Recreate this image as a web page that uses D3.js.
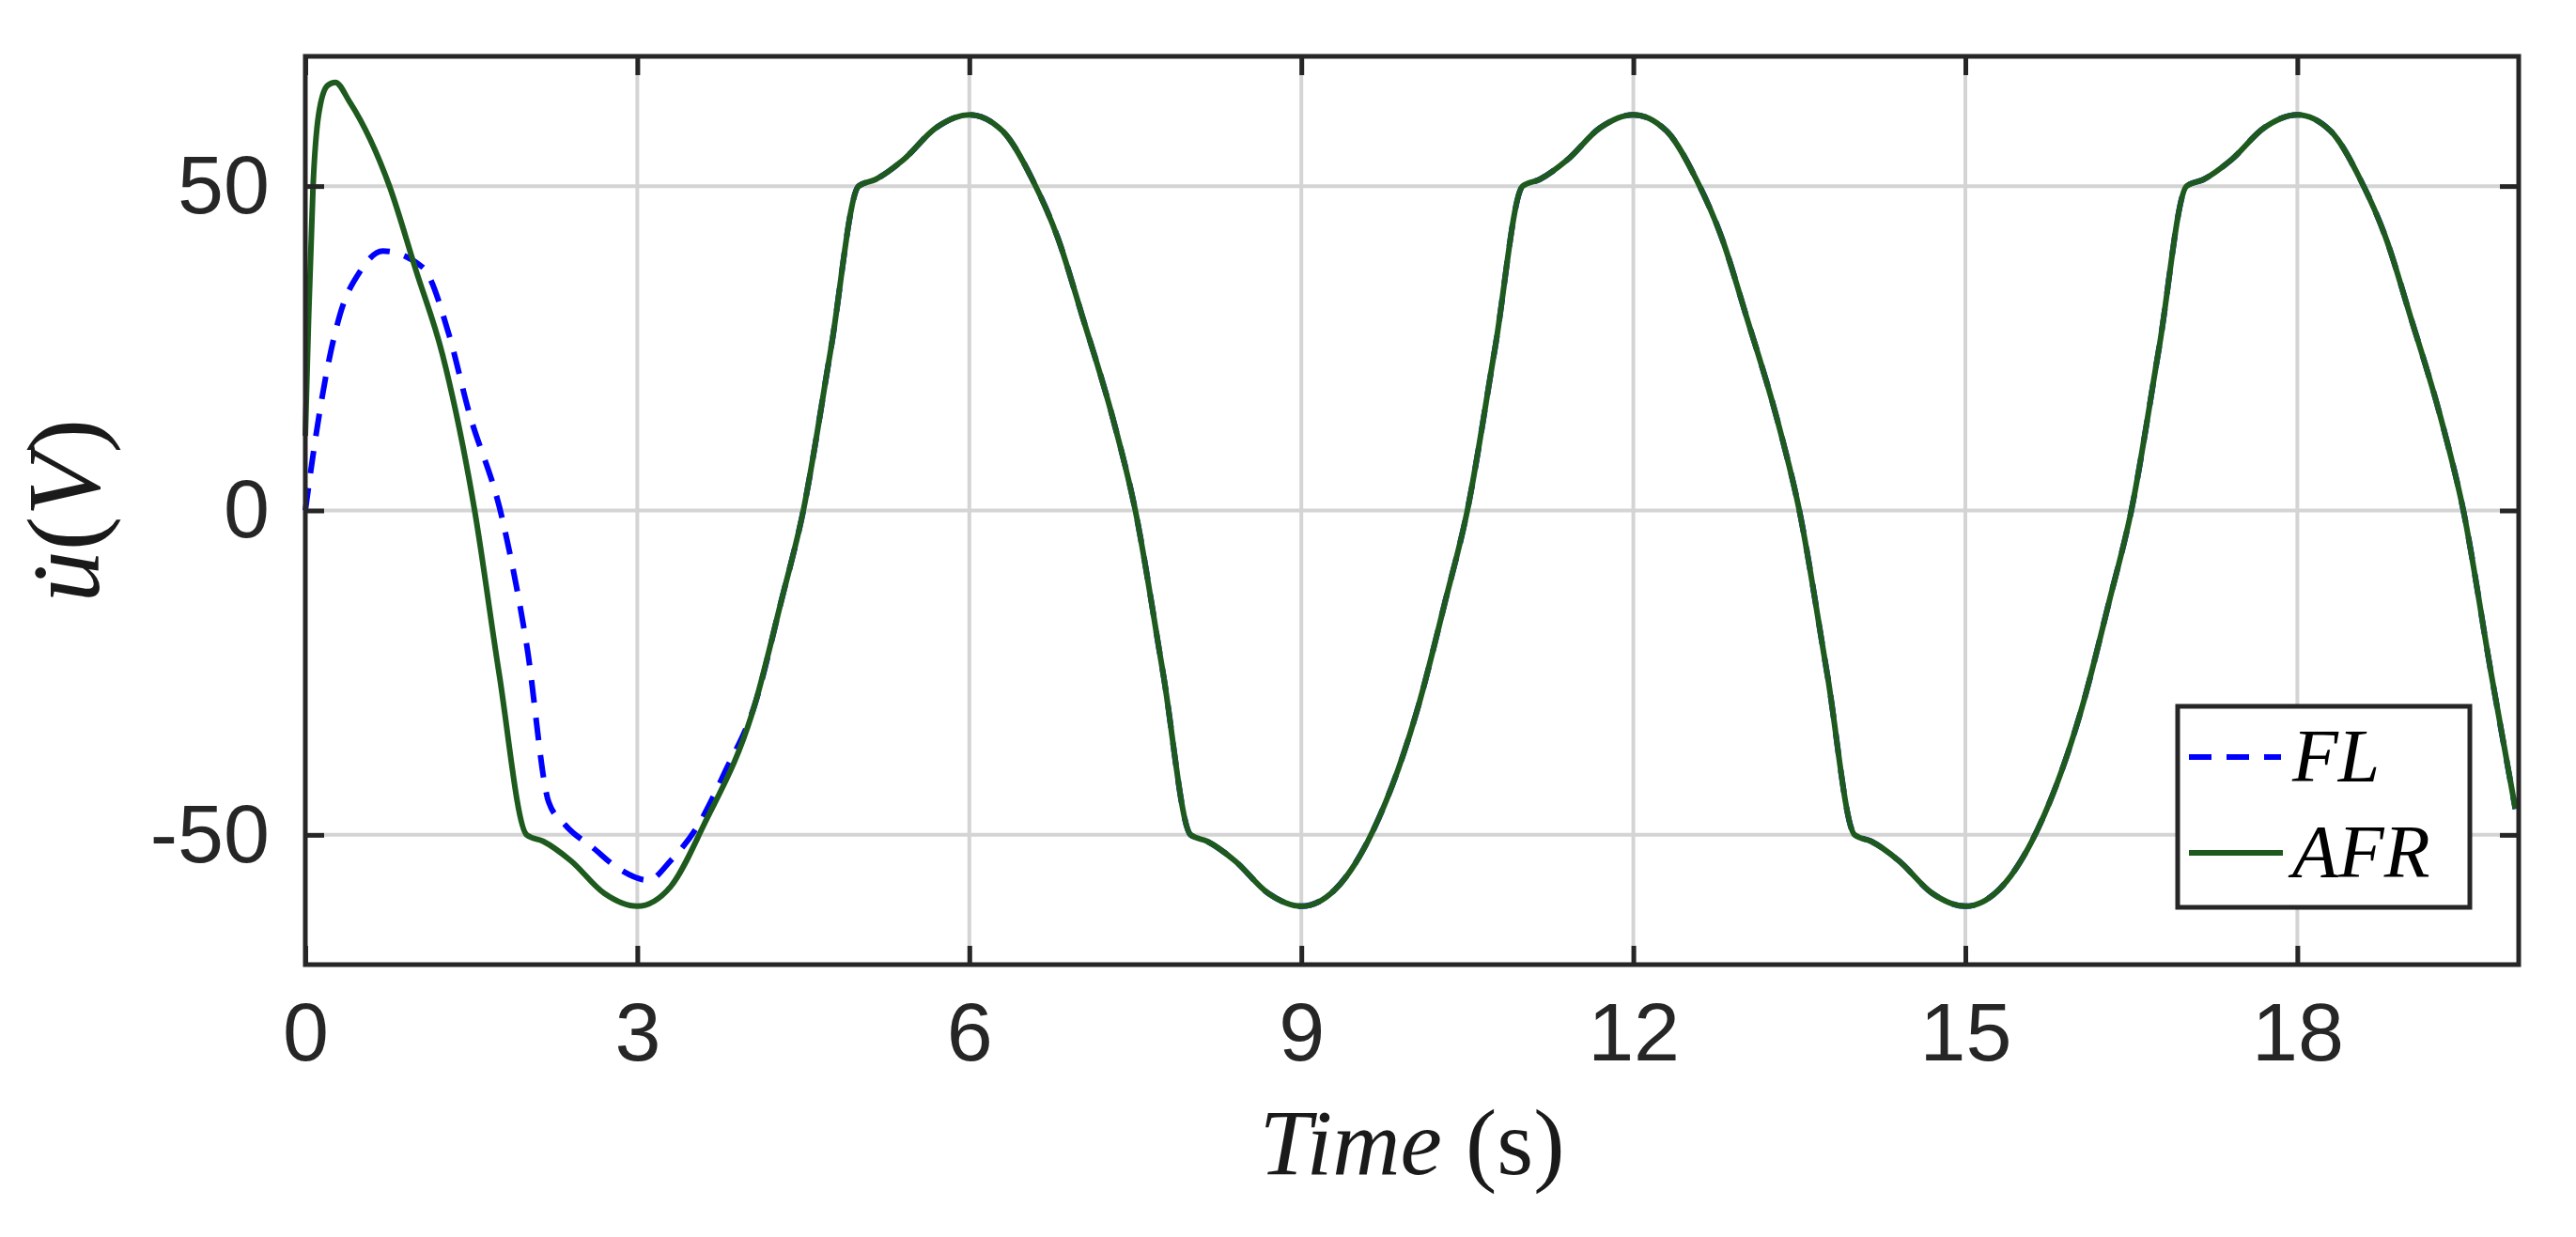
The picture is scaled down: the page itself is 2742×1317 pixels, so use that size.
<!DOCTYPE html>
<html><head><meta charset="utf-8">
<script src="https://cdn.jsdelivr.net/npm/d3@7/dist/d3.min.js"></script>
<style>body{margin:0;background:#fff}</style></head>
<body><svg id="c" width="2742" height="1317"></svg>
<script>
const xTicks = [0,3,6,9,12,15,18];
const yTicks = [-50,0,50];
const yTickLabels = ['-50','0','50'];
const afrT = [0,0.03,0.07,0.12,0.2,0.27,0.4,0.76,1.0,1.24,1.53,1.75,2.0,2.15,2.4,2.7,3.0,3.3,3.6,4.06,4.3,4.5,
 4.75,5,5.15,5.4,5.7,6,6.3,6.57,6.8,7.02,7.3,7.5,7.75,8,8.15,8.4,8.7,9,9.3,9.6,10.06,10.3,10.5,
 10.75,11,11.15,11.4,11.7,12,12.3,12.57,12.8,13.02,13.3,13.5,13.75,14,14.15,14.4,14.7,15,15.3,15.6,16.06,16.3,16.5,
 16.75,17,17.15,17.4,17.7,18,18.3,18.57,18.8,19.02,19.3,19.5,19.75,19.97];
const afrV = [11.5,30,50,61,65.5,66,63,50,37,24,0,-25,-50,-51,-54,-59,-61,-58,-48.5,-30,-14,0,
 25,50,51,54,59,61,58.5,51,42,30,14,0,-25,-50,-51,-54,-59,-61,-58.5,-51,-30,-14,0,
 25,50,51,54,59,61,58.5,51,42,30,14,0,-25,-50,-51,-54,-59,-61,-58.5,-51,-30,-14,0,
 25,50,51,54,59,61,58.5,51,42,30,14,0,-25,-46];
const flT = [0,0.1,0.2,0.31,0.5,0.7,1.06,1.3,1.47,1.78,2.0,2.2,2.35,2.6,2.84,3.1,3.3,3.55,3.8,4.06];
const flV = [0,12,22,30,37,40,37.5,27,15.7,-1.3,-20.7,-45,-48.5,-52,-55.3,-57,-54,-48.5,-40,-30];

const svg = d3.select('#c');
const L=325,R=2681,T=60,B=1027;
const x = d3.scaleLinear().domain([0,20]).range([L,R]);
const y = d3.scaleLinear().domain([-70,70]).range([B,T]);
const axisCol='#262626';
svg.append('g').selectAll('line').data(xTicks).join('line')
 .attr('x1',d=>x(d)).attr('x2',d=>x(d)).attr('y1',T).attr('y2',B).attr('stroke','#d4d4d4').attr('stroke-width',4);
svg.append('g').selectAll('line').data(yTicks).join('line')
 .attr('y1',d=>y(d)).attr('y2',d=>y(d)).attr('x1',L).attr('x2',R).attr('stroke','#d4d4d4').attr('stroke-width',4);
const line = d3.line().x(d=>x(d[0])).y(d=>y(d[1])).curve(d3.curveMonotoneX);
const afr = afrT.map((t,i)=>[t,afrV[i]]);
const fl = flT.map((t,i)=>[t,flV[i]]).concat(afr.filter(d=>d[0]>4.06));
svg.append('path').attr('d',line(fl)).attr('fill','none').attr('stroke','#0000ff').attr('stroke-width',6).attr('stroke-dasharray','24,16');
svg.append('path').attr('d',line(afr)).attr('fill','none').attr('stroke','#1e5a1e').attr('stroke-width',6);
const fnt='Liberation Sans, Arial, sans-serif';
const gb=svg.append('g').attr('transform',`translate(0,${B})`).call(d3.axisBottom(x).tickValues(xTicks).tickSize(-20).tickPadding(40).tickFormat(d3.format('d')));
const gt=svg.append('g').attr('transform',`translate(0,${T})`).call(d3.axisTop(x).tickValues(xTicks).tickSize(-20).tickFormat(''));
const gl=svg.append('g').attr('transform',`translate(${L},0)`).call(d3.axisLeft(y).tickValues(yTicks).tickSize(-20).tickPadding(38).tickFormat((d,i)=>yTickLabels[i]));
const gr=svg.append('g').attr('transform',`translate(${R},0)`).call(d3.axisRight(y).tickValues(yTicks).tickSize(-20).tickFormat(''));
[gb,gt,gl,gr].forEach(g=>{g.select('.domain').remove();g.selectAll('line').attr('stroke',axisCol).attr('stroke-width',5);
 g.selectAll('text').attr('fill','#262626').style('font-family',fnt).style('font-size','88px');});
svg.append('rect').attr('x',L).attr('y',T).attr('width',R-L).attr('height',B-T).attr('fill','none').attr('stroke',axisCol).attr('stroke-width',5);
const serif='Liberation Serif, DejaVu Serif, serif';
const xl=svg.append('text').attr('x',(L+R)/2).attr('y',1250).attr('text-anchor','middle').style('font-family',serif).style('font-size','100px').attr('fill','#1a1a1a');
xl.append('tspan').attr('font-style','italic').text('Time');
xl.append('tspan').text(' (s)');
const yl=svg.append('text').attr('transform',`translate(105,${(T+B)/2}) rotate(-90)`).attr('text-anchor','middle').style('font-family',serif).style('font-size','110px').attr('fill','#1a1a1a');
yl.append('tspan').attr('font-style','italic').text('u\u0307');
yl.append('tspan').text('(');
yl.append('tspan').attr('font-style','italic').text('V');
yl.append('tspan').text(')');
const lg=svg.append('g');
lg.append('rect').attr('x',2318).attr('y',752).attr('width',311).attr('height',214).attr('fill','#fff').attr('stroke',axisCol).attr('stroke-width',5);
lg.append('line').attr('x1',2330).attr('x2',2428).attr('y1',806).attr('y2',806).attr('stroke','#0000ff').attr('stroke-width',6).attr('stroke-dasharray','24,16');
lg.append('line').attr('x1',2330).attr('x2',2430).attr('y1',908).attr('y2',908).attr('stroke','#1e5a1e').attr('stroke-width',6);
lg.append('text').attr('x',2440).attr('y',832).attr('font-style','italic').style('font-family',serif).style('font-size','80px').text('FL');
lg.append('text').attr('x',2440).attr('y',934).attr('font-style','italic').style('font-family',serif).style('font-size','80px').text('AFR');
</script></body></html>
